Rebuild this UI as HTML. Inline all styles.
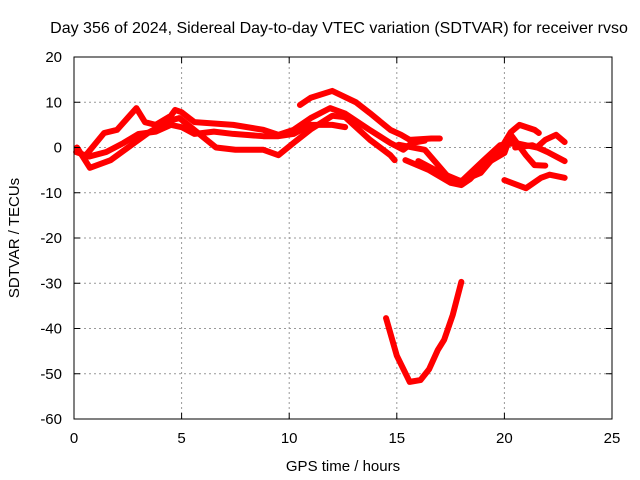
<!DOCTYPE html>
<html><head><meta charset="utf-8"><style>
body{margin:0;background:#fff;}
svg{display:block;font-family:"Liberation Sans",sans-serif;}
</style></head><body>
<svg id="chart" width="640" height="480">
<text x="339" y="33" font-size="16" text-anchor="middle">Day 356 of 2024, Sidereal Day-to-day VTEC variation (SDTVAR) for receiver rvso</text>
<text x="343" y="471" font-size="15" text-anchor="middle">GPS time / hours</text>
<text transform="translate(19,238) rotate(-90)" font-size="15" text-anchor="middle">SDTVAR / TECUs</text>
<g id="grid"></g><g id="series"></g>
<rect x="74" y="57" width="538" height="362" fill="none" stroke="#000" stroke-width="1"/>
</svg>
<script>
const xTicks=[0,5,10,15,20,25];
const yTicks=[20,10,0,-10,-20,-30,-40,-50,-60];
const s1=[[0.1,-1],[0.7,-2],[1.5,-1],[2.3,1],[3,3],[3.8,3.5],[4.5,5],[5,4.5],[5.6,3],[6.5,3.5],[7.4,3],[8.8,2.5],[9.5,2.5],[10.2,3],[11,5],[12,5],[12.6,4.5]];
const s2=[[0.14,0],[0.74,-4.5],[1.7,-2.8],[2.8,1],[3.5,3.4],[4.5,6],[4.9,6.5],[5.3,5],[6.6,0],[7.5,-0.5],[8.8,-0.5],[9.5,-1.7],[10.2,1],[11,4],[12,7],[12.6,6.7],[13.75,1.7],[14.7,-1.7],[14.9,-2.8]];
const s3=[[0.5,-2],[1.4,3.2],[2,3.9],[2.9,8.7],[3.3,5.6],[3.8,5],[4.5,7],[4.7,8.3],[5,7.8],[5.35,6.5],[5.6,5.6],[7.4,5],[8.8,3.9],[9.5,2.8],[10.2,3.9],[11,6.5],[11.9,8.7],[12.6,7.5],[13.7,4],[14.7,1],[15.3,-0.5],[15.7,1],[16.3,1.5]];
const s4=[[10.5,9.4],[11,11],[12,12.5],[13.1,10],[13.75,7.6],[14.7,3.9],[15.2,2.8],[15.6,1.7],[16.6,2],[17,2]];
const s5=[[15.1,0.6],[16.3,-0.5],[17.3,-6],[17.7,-7.8],[18.2,-7],[18.9,-5.6],[19.8,-0.5],[20.3,3.4],[20.7,5],[21.4,3.9],[21.6,3.2]];
const s6=[[15.4,-2.8],[16.5,-5],[17.5,-7.8],[18,-8.3],[18.4,-7],[19,-4],[20,-1.2],[20.3,2.8],[21,-1.7],[21.4,-3.9],[21.9,-4]];
const s7=[[16,-3],[17,-5.5],[18,-7.5],[19,-3],[19.8,0.5],[20.5,1],[21.5,0],[21.9,1.7],[22.4,2.8],[22.8,1.2]];
const s8=[[20,-7.2],[21,-9],[21.7,-6.7],[22.1,-6],[22.8,-6.7]];
const s9=[[20.5,0],[21.3,0.5],[22,-1],[22.8,-3]];
const s10=[[14.5,-37.7],[15,-46],[15.6,-51.8],[16.1,-51.4],[16.5,-49],[16.9,-44.8],[17.2,-42.5],[17.6,-37],[18,-29.7]];
const allSeries=[s1,s2,s3,s4,s5,s6,s7,s8,s9,s10];
const X=h=>74+h*538/25, Y=v=>57+(20-v)*362/80;
const NS="http://www.w3.org/2000/svg";
const svg=document.getElementById('chart'),g=document.getElementById('grid'),sg=document.getElementById('series');
function mk(t,a,p){const e=document.createElementNS(NS,t);for(const k in a)e.setAttribute(k,a[k]);p.appendChild(e);return e;}
xTicks.forEach(t=>{
 if(t>0&&t<25){const l=mk('line',{x1:X(t),x2:X(t),y1:57,y2:419,stroke:'#999','stroke-dasharray':'2,3'},g);
 
 }
 const tx=mk('text',{x:X(t),y:443,'font-size':15,'text-anchor':'middle'},svg);tx.textContent=t;
 
 
 mk('line',{x1:X(t),x2:X(t),y1:419,y2:413,stroke:'#000'},svg);mk('line',{x1:X(t),x2:X(t),y1:57,y2:63,stroke:'#000'},svg);
});
yTicks.forEach(t=>{
 if(t<20&&t>-60){const l=mk('line',{x1:74,x2:612,y1:Y(t),y2:Y(t),stroke:'#999','stroke-dasharray':'2,3'},g);
 
 }
 const tx=mk('text',{x:62,y:Y(t)+5,'font-size':15,'text-anchor':'end'},svg);tx.textContent=t;
 
 
 mk('line',{x1:74,x2:80,y1:Y(t),y2:Y(t),stroke:'#000'},svg);mk('line',{x1:606,x2:612,y1:Y(t),y2:Y(t),stroke:'#000'},svg);
});
allSeries.forEach((s,i)=>{
 const p=mk('polyline',{points:s.map(d=>X(d[0])+','+Y(d[1])).join(' '),fill:'none',stroke:'#f00','stroke-width':6,'stroke-linejoin':'round','stroke-linecap':'round'},sg);
 
 
});
</script>
</body></html>
